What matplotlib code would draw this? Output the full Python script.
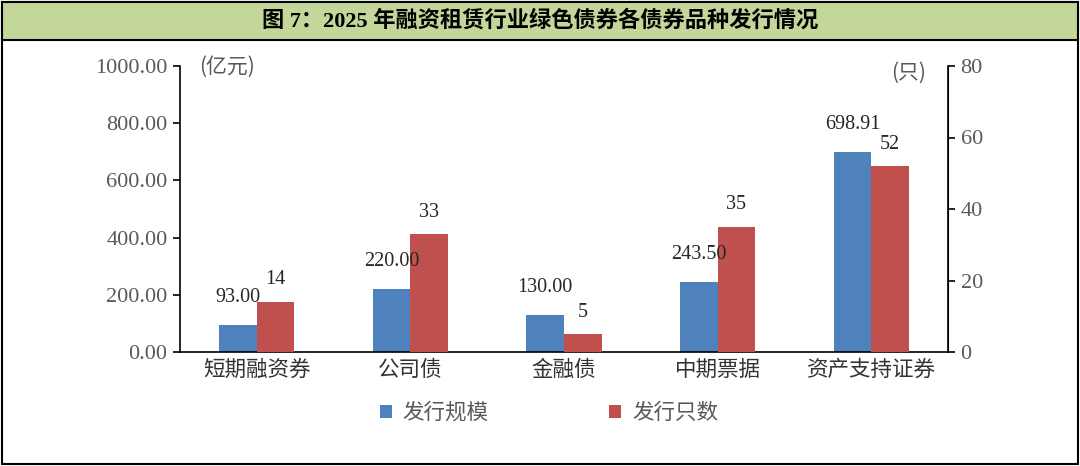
import matplotlib
matplotlib.use('Agg')
import matplotlib.pyplot as plt
from matplotlib.patches import Rectangle
import numpy as np

plt.rcParams['font.family'] = ['Liberation Serif', 'Noto Sans CJK SC']

categories = ['短期融资券', '公司债', '金融债', '中期票据', '资产支持证券']
scale = [93.00, 220.00, 130.00, 243.50, 698.91]   # 发行规模（亿元）
count = [14, 33, 5, 35, 52]                        # 发行只数（只）
scale_labels = ['93.00', '220.00', '130.00', '243.50', '698.91']
title = '图 7：2025 年融资租赁行业绿色债券各债券品种发行情况'

blue = '#4F81BD'
red = '#C0504D'
gray = '#595959'
W, H = 1080, 466

fig = plt.figure(figsize=(W / 100, H / 100), dpi=100)

# frame + title band
fig.patches.append(Rectangle((2 / W, 2 / H), 1 - 4 / W, 1 - 4 / H, transform=fig.transFigure,
                             fill=False, edgecolor='black', linewidth=1.5))
fig.patches.append(Rectangle((2 / W, 1 - 40 / H), 1 - 4 / W, 38 / H, transform=fig.transFigure,
                             facecolor='#C4D79B', edgecolor='black', linewidth=1.5))
fig.text(0.5, 1 - 21 / H, title, ha='center', va='center', fontsize=16, fontweight='bold',
         family=['Liberation Serif', 'Noto Sans CJK SC'])

ax = fig.add_axes([180 / W, 1 - 352 / H, (948 - 180) / W, (352 - 66) / H])
ax2 = ax.twinx()

x = np.arange(len(categories))
w = 0.245
b1 = ax.bar(x - w / 2, scale, w, color=blue, label='发行规模')
b2 = ax2.bar(x + w / 2, count, w, color=red, label='发行只数')

ax.set_xlim(-0.5, len(categories) - 0.5)
ax.set_ylim(0, 1000)
ax2.set_ylim(0, 80)
ax.set_yticks(np.arange(0, 1001, 200))
ax.set_yticklabels([f'{v:.2f}' for v in np.arange(0, 1001, 200)])
ax2.set_yticks(np.arange(0, 81, 20))

for a in (ax, ax2):
    a.spines['top'].set_visible(False)
    a.tick_params(axis='y', labelsize=16, labelcolor=gray, length=5, width=1.2, pad=4)
ax.spines['left'].set_linewidth(1.2)
ax2.spines['right'].set_linewidth(1.2)
ax.spines['bottom'].set_linewidth(1.2)
ax2.spines['left'].set_visible(False)
ax2.spines['bottom'].set_visible(False)
ax.set_xticks(x)
ax.set_xticklabels(categories, fontsize=15.5, color='#333333', family=['Noto Sans CJK SC'])
ax.tick_params(axis='x', length=0, pad=5)

# labels drawn on ax2 so they sit above the red bars
for xi, v, lab in zip(x, scale, scale_labels):
    ax2.annotate(lab, (xi - w / 2, v), xycoords=ax.transData, xytext=(0, 13),
                 textcoords='offset points', ha='center', va='bottom', fontsize=14.5,
                 color='#262626')
for xi, v in zip(x, count):
    ax2.annotate(str(v), (xi + w / 2, v), xytext=(0, 9), textcoords='offset points',
                 ha='center', va='bottom', fontsize=14.5, color='#262626')

fig.text(199 / W, 1 - 67 / H, '(亿元)', ha='left', va='center', fontsize=15, color=gray,
         family=['Noto Sans CJK SC'])
fig.text(926 / W, 1 - 73 / H, '(只)', ha='right', va='center', fontsize=15, color=gray,
         family=['Noto Sans CJK SC'])

h = [b1, b2]
fig.legend(h, ['发行规模', '发行只数'], loc='center', bbox_to_anchor=(549 / W, 1 - 413 / H),
           ncol=2, frameon=False, prop={'family': 'Noto Sans CJK SC', 'size': 15.5},
           handlelength=0.55, handleheight=0.55, columnspacing=5.6, handletextpad=0.5,
           labelcolor=gray)

fig.savefig('out.png', dpi=100)
